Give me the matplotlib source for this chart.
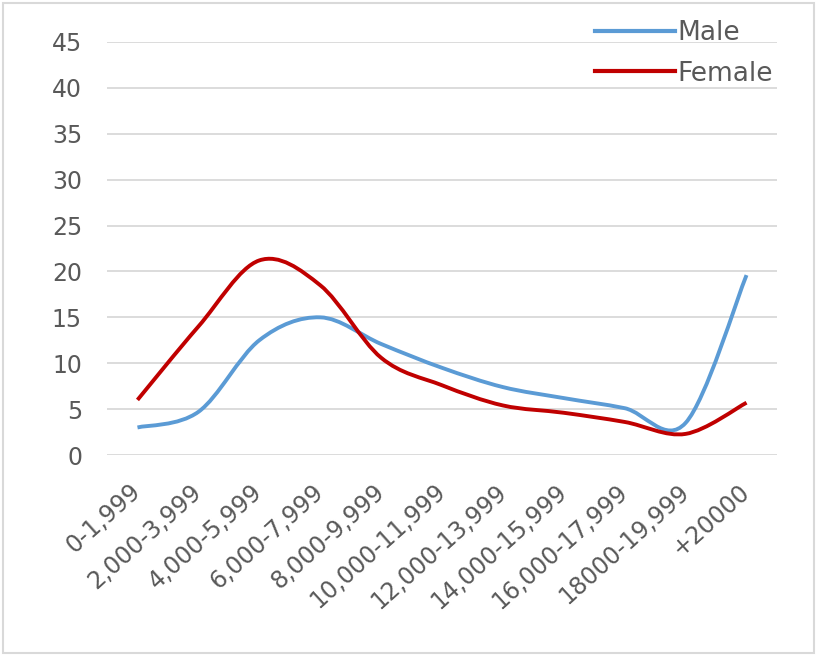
import numpy as np
import matplotlib.pyplot as plt
from matplotlib.path import Path
from matplotlib.patches import PathPatch, Rectangle
from matplotlib.lines import Line2D

categories = ['0-1,999', '2,000-3,999', '4,000-5,999', '6,000-7,999', '8,000-9,999',
              '10,000-11,999', '12,000-13,999', '14,000-15,999', '16,000-17,999',
              '18000-19,999', '+20000']
male = [3.0, 4.7, 12.5, 15.0, 12.1, 9.5, 7.4, 6.2, 5.1, 3.5, 19.6]
female = [6.0, 14.0, 21.2, 18.5, 10.6, 7.6, 5.4, 4.6, 3.6, 2.3, 5.7]

blue = '#5B9BD5'
red = '#C00000'
grey_text = '#595959'
grid_col = '#D9D9D9'


def smooth_path(xs, ys):
    # cubic bezier through every point, tangents like a catmull-rom spline
    pts = np.column_stack([xs, ys]).astype(float)
    n = len(pts)
    verts = [pts[0]]
    codes = [Path.MOVETO]
    for i in range(n - 1):
        p_prev = pts[i - 1] if i > 0 else pts[i]
        p0 = pts[i]
        p1 = pts[i + 1]
        p_next = pts[i + 2] if i + 2 < n else pts[i + 1]
        c1 = p0 + (p1 - p_prev) / 6.0
        c2 = p1 - (p_next - p0) / 6.0
        verts += [c1, c2, p1]
        codes += [Path.CURVE4] * 3
    return Path(verts, codes)


fig = plt.figure(figsize=(8.17, 6.56), dpi=100)
ax = fig.add_axes([0.131, 0.3064, 0.82, 0.6296])

x = np.arange(len(categories))
for vals, col in [(male, blue), (female, red)]:
    patch = PathPatch(smooth_path(x, vals), facecolor='none', edgecolor=col,
                      lw=2.8, capstyle='butt', zorder=3)
    ax.add_patch(patch)

ax.set_xlim(-0.5, len(categories) - 0.5)
ax.set_ylim(0, 45)
ax.set_yticks(np.arange(0, 46, 5))
ax.set_xticks(x)
ax.set_xticklabels(categories, rotation=42, ha='right', va='center',
                   rotation_mode='anchor')
ax.tick_params(axis='both', length=0, labelsize=17, labelcolor=grey_text)
ax.tick_params(axis='y', pad=18)
ax.tick_params(axis='x', pad=24)
ax.grid(axis='y', color=grid_col, lw=1.3)
ax.set_axisbelow(True)
for s in ax.spines.values():
    s.set_visible(False)

handles = [Line2D([], [], color=blue, lw=3), Line2D([], [], color=red, lw=3)]
leg = fig.legend(handles, ['Male', 'Female'], loc='upper right',
                 bbox_to_anchor=(0.962, 0.99), frameon=False, fontsize=19,
                 borderaxespad=0.1, handlelength=3.0, handletextpad=0.1,
                 labelspacing=0.56)
for t in leg.get_texts():
    t.set_color(grey_text)

# thin frame around the whole chart
fig.patches.append(Rectangle((0.004, 0.005), 0.992, 0.99, transform=fig.transFigure,
                             fill=False, edgecolor=grid_col, lw=1.5))

fig.savefig('out.png', dpi=100)
